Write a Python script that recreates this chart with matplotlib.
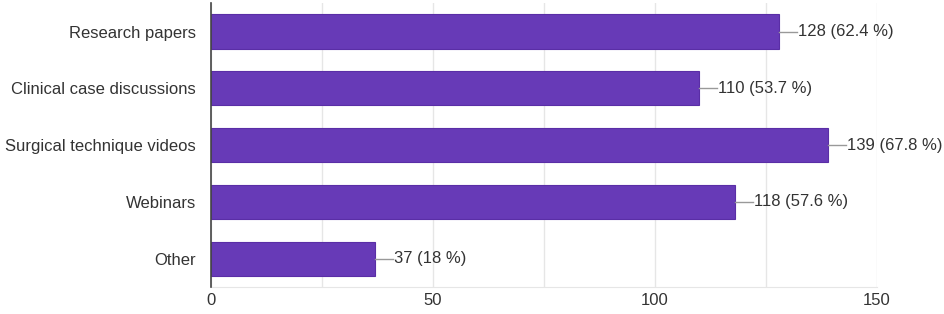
import numpy as np
import matplotlib.pyplot as plt

plt.rcParams['font.family'] = ['Liberation Sans', 'DejaVu Sans']

# survey answers
categories = ["Research papers", "Clinical case discussions", "Surgical technique videos",
              "Webinars", "Other"]
counts = [128, 110, 139, 118, 37]
percents = ["62.4", "53.7", "67.8", "57.6", "18"]
xticks = [0, 50, 100, 150]

bar_color = "#673ab7"
text_color = "#333333"
fs = 12

fig = plt.figure(figsize=(9.45, 3.14), dpi=100)
ax = fig.add_axes([0.2233, 0.086, 0.7047, 0.904])

y = np.arange(len(categories))
ax.barh(y, counts, height=0.6, color=bar_color, edgecolor="#5a2ea6", linewidth=0.8, zorder=3)

# leader line + label at the end of every bar
for yi, c, p in zip(y, counts, percents):
    ax.plot([c, c + 4], [yi, yi], color="#999999", linewidth=1, zorder=3)
    ax.text(c + 4.2, yi, f"{c} ({p} %)", va="center", ha="left",
            fontsize=fs, color=text_color)

ax.set_xlim(0, 150)
ax.set_ylim(len(categories) - 0.5, -0.5)
ax.set_yticks(y)
ax.set_yticklabels(categories, fontsize=fs, color=text_color)
ax.set_xticks(xticks)
ax.set_xticklabels([str(t) for t in xticks], fontsize=fs, color=text_color)
ax.set_xticks(np.arange(0, 151, 25), minor=True)
ax.tick_params(axis="both", which="both", length=0)
ax.tick_params(axis="y", pad=11)
ax.tick_params(axis="x", pad=4)

ax.grid(axis="x", which="both", color="#e6e6e6", linewidth=1, zorder=0)
for s in ["top", "right"]:
    ax.spines[s].set_visible(False)
ax.spines["bottom"].set_color("#e6e6e6")
ax.spines["left"].set_color("#444444")
ax.spines["left"].set_linewidth(1.2)
ax.spines["left"].set_zorder(4)

plt.savefig("out.png", dpi=100)
